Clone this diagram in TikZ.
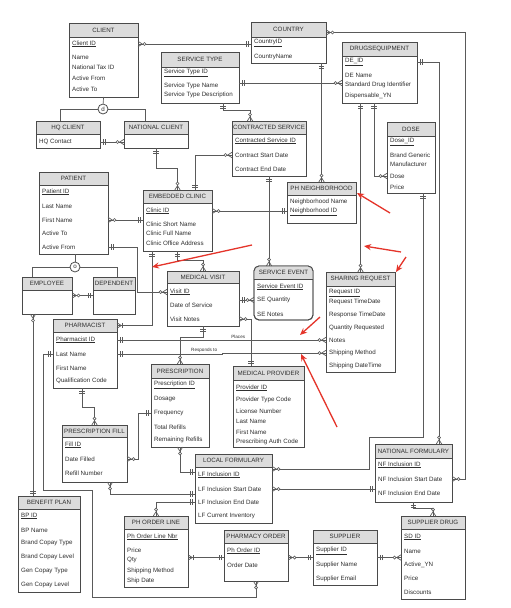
\documentclass[tikz,border=0pt]{standalone}
\usepackage{fontspec}
\setmainfont{Liberation Sans}
\usetikzlibrary{arrows.meta,calc,decorations.markings}
\definecolor{boxline}{HTML}{4A4A4A}
\definecolor{headfill}{HTML}{DCDCDC}
\definecolor{linkline}{HTML}{5A5A5A}
\definecolor{textgray}{HTML}{2E2E2E}
\definecolor{annot}{HTML}{E5342A}

% entity box: name, left, top, right, bottom, header bottom, title
\newcommand{\entity}[7]{%
  \node[ebox, minimum width=#4-#2, minimum height=#5-#3, anchor=north west] (#1) at (#2,#3) {};
  \node[ehead, minimum width=#4-#2, minimum height=#6-#3, anchor=north west] (#1-t) at (#2,#3) {#7};
}

\begin{document}
\begin{tikzpicture}[
  x=1pt, y=-1pt,
  font=\fontsize{6.2}{7}\selectfont,
  ebox/.style={draw=boxline, fill=white, line width=0.9pt, inner sep=0pt, outer sep=0pt},
  ehead/.style={draw=boxline, fill=headfill, line width=0.9pt, inner sep=0pt, outer sep=0pt, text=textgray},
  field/.style={anchor=west, inner sep=0pt, text=textgray},
  rel/.style={font=\fontsize{4.6}{5}\selectfont, text=textgray, inner sep=1pt},
  subcirc/.style={circle, draw=boxline, fill=white, line width=0.8pt, inner sep=0pt, minimum size=10pt, text=textgray},
  link/.style={draw=linkline, line width=0.7pt},
  mk/.style={draw=linkline, line width=0.7pt},
  annotarrow/.style={-{Stealth[length=7pt,width=6pt]}, line width=1.3pt, annot},
  one start/.style={postaction={decorate, decoration={markings,
    mark=at position 3pt with {\draw[mk] (0pt,-2.6pt) -- (0pt,2.6pt);},
    mark=at position 5pt with {\draw[mk] (0pt,-2.6pt) -- (0pt,2.6pt);}}}},
  one end/.style={postaction={decorate, decoration={markings,
    mark=at position -3pt with {\draw[mk] (0pt,-2.6pt) -- (0pt,2.6pt);},
    mark=at position -5pt with {\draw[mk] (0pt,-2.6pt) -- (0pt,2.6pt);}}}},
  zmany start/.style={postaction={decorate, decoration={markings,
    mark=at position 0.35pt with {\draw[mk] (4pt,0pt) -- (-0.35pt,2.7pt) (4pt,0pt) -- (-0.35pt,-2.7pt);},
    mark=at position 6.5pt with {\draw[mk, fill=white] (0pt,0pt) circle (1.5pt);}}}},
  zmany end/.style={postaction={decorate, decoration={markings,
    mark=at position -0.35pt with {\draw[mk] (-4pt,0pt) -- (0.35pt,2.7pt) (-4pt,0pt) -- (0.35pt,-2.7pt);},
    mark=at position -6.5pt with {\draw[mk, fill=white] (0pt,0pt) circle (1.5pt);}}}},
  omany start/.style={postaction={decorate, decoration={markings,
    mark=at position 0.35pt with {\draw[mk] (4pt,0pt) -- (-0.35pt,2.7pt) (4pt,0pt) -- (-0.35pt,-2.7pt);},
    mark=at position 5.5pt with {\draw[mk] (0pt,-2.6pt) -- (0pt,2.6pt);}}}},
  omany end/.style={postaction={decorate, decoration={markings,
    mark=at position -0.35pt with {\draw[mk] (-4pt,0pt) -- (0.35pt,2.7pt) (-4pt,0pt) -- (0.35pt,-2.7pt);},
    mark=at position -5.5pt with {\draw[mk] (0pt,-2.6pt) -- (0pt,2.6pt);}}}}
]
\fill[white] (0,0) rectangle (511,608);
\useasboundingbox (0,0) rectangle (511,608);

% entities
\entity{client}{69}{23}{138}{97}{37}{CLIENT}
\node[field] (cl-id) at (72,44) {\underline{Client ID}};
\node[field] (cl-name) at (72,57) {Name};
\node[field] (cl-tax) at (72,67) {National Tax ID};
\node[field] (cl-from) at (72,78) {Active From};
\node[field] (cl-to) at (72,89) {Active To};

\entity{country}{251}{22}{326}{63}{37}{COUNTRY}
\node[field] (co-id) at (254,43) {\underline{CountryID}};
\node[field] (co-name) at (254,57) {CountryName};

\entity{drugs}{342}{42}{417}{103}{56}{DRUGSEQUIPMENT}
\node[field] (de-id) at (345,62) {\underline{DE\_ID}};
\node[field] (de-name) at (345,75) {DE Name};
\node[field] (de-std) at (345,85) {Standard Drug Identifier};
\node[field] (de-disp) at (345,96) {Dispensable\_YN};

\entity{stype}{161}{52}{239}{103}{67}{SERVICE TYPE}
\node[field] (st-id) at (164,73) {\underline{Service Type ID}};
\node[field] (st-name) at (164,86) {Service Type Name};
\node[field] (st-desc) at (164,95) {Service Type Description};

\entity{hq}{36}{121}{100}{148}{134}{HQ CLIENT}
\node[field] (hq-contact) at (39,142) {HQ Contact};

\entity{nc}{124}{121}{188}{148}{134}{NATIONAL CLIENT}

\entity{cs}{232}{121}{306}{176}{134}{CONTRACTED SERVICE}
\node[field] (cs-id) at (235,141) {\underline{Contracted Service ID}};
\node[field] (cs-start) at (235,155) {Contract Start Date};
\node[field] (cs-end) at (235,169) {Contract End Date};

\entity{phn}{287}{182}{356}{223}{195}{PH NEIGHBORHOOD}
\node[field] (phn-name) at (290,202) {Neighborhood Name};
\node[field] (phn-id) at (290,212) {\underline{Neighborhood ID}};

\entity{ec}{143}{190}{212}{251}{203}{EMBEDDED CLINIC}
\node[field] (ec-id) at (146,211) {\underline{Clinic ID}};
\node[field] (ec-short) at (146,224) {Clinic Short Name};
\node[field] (ec-full) at (146,233) {Clinic Full Name};
\node[field] (ec-addr) at (146,243) {Clinic Office Address};

\entity{pat}{39}{172}{108}{254}{185}{PATIENT}
\node[field] (pa-id) at (42,192) {\underline{Patient ID}};
\node[field] (pa-last) at (42,206) {Last Name};
\node[field] (pa-first) at (42,220) {First Name};
\node[field] (pa-to) at (42,233) {Active To};
\node[field] (pa-from) at (42,247) {Active From};

\entity{dose}{387}{122}{435}{193}{136}{DOSE}
\node[field] (ds-id) at (390,142) {\underline{Dose\_ID}};
\node[field] (ds-brand) at (390,155) {Brand Generic};
\node[field] (ds-manu) at (390,164) {Manufacturer};
\node[field] (ds-dose) at (390,176) {Dose};
\node[field] (ds-price) at (390,187) {Price};

\entity{emp}{22}{277}{72}{314}{290}{EMPLOYEE}
\entity{dep}{93}{277}{135}{314}{290}{DEPENDENT}

\entity{mv}{167}{271}{239}{326}{283}{MEDICAL VISIT}
\node[field] (mv-id) at (170,292) {\underline{Visit ID}};
\node[field] (mv-date) at (170,305) {Date of Service};
\node[field] (mv-notes) at (170,319) {Visit Notes};

% service event has round corners
\node[ebox, rounded corners=5pt, minimum width=59, minimum height=54, anchor=north west] (se) at (254,266) {};
\begin{scope}
  \clip[rounded corners=5pt] (se.north west) rectangle (se.south east);
  \fill[headfill] (se.north west) rectangle (se.east |- 0,279);
\end{scope}
\draw[boxline, line width=0.9pt] (se.west |- 0,279) -- (se.east |- 0,279);
\draw[boxline, line width=0.9pt, rounded corners=5pt] (se.north west) rectangle (se.south east);
\node[text=textgray] (se-t) at (283.5,272.5) {SERVICE EVENT};
\node[field] (se-id) at (257,287) {\underline{Service Event ID}};
\node[field] (se-qty) at (257,300) {SE Quantity};
\node[field] (se-notes) at (257,314) {SE Notes};

\entity{sr}{326}{272}{395}{372}{286}{SHARING REQUEST}
\node[field] (sr-id) at (329,293) {\underline{Request ID}};
\node[field] (sr-req) at (329,302) {Request TimeDate};
\node[field] (sr-resp) at (329,315) {Response TimeDate};
\node[field] (sr-qty) at (329,328) {Quantity Requested};
\node[field] (sr-notes) at (329,340) {Notes};
\node[field] (sr-ship) at (329,353) {Shipping Method};
\node[field] (sr-time) at (329,366) {Shipping DateTime};

\entity{pharm}{53}{319}{117}{388}{332}{PHARMACIST}
\node[field] (ph-id) at (56,340) {\underline{Pharmacist ID}};
\node[field] (ph-last) at (56,354) {Last Name};
\node[field] (ph-first) at (56,368) {First Name};
\node[field] (ph-qual) at (56,381) {Qualification Code};

\entity{presc}{151}{364}{209}{447}{378}{PRESCRIPTION}
\node[field] (pr-id) at (154,385) {\underline{Prescription ID}};
\node[field] (pr-dos) at (154,399) {Dosage};
\node[field] (pr-freq) at (154,413) {Frequency};
\node[field] (pr-total) at (154,427) {Total Refills};
\node[field] (pr-rem) at (154,440) {Remaining Refills};

\entity{mp}{233}{366}{304}{447}{380}{MEDICAL PROVIDER}
\node[field] (mp-id) at (236,388) {\underline{Provider ID}};
\node[field] (mp-type) at (236,400) {Provider Type Code};
\node[field] (mp-lic) at (236,411) {License Number};
\node[field] (mp-last) at (236,421) {Last Name};
\node[field] (mp-first) at (236,432) {First Name};
\node[field] (mp-auth) at (236,442) {Prescribing Auth Code};

\entity{pf}{62}{425}{127}{482}{437}{PRESCRIPTION FILL}
\node[field] (pf-id) at (65,445) {\underline{Fill ID}};
\node[field] (pf-date) at (65,459) {Date Filled};
\node[field] (pf-refill) at (65,473) {Refill Number};

\entity{lf}{195}{454}{272}{523}{467}{LOCAL FORMULARY}
\node[field] (lf-id) at (198,475) {\underline{LF Inclusion ID}};
\node[field] (lf-st) at (198,489) {LF Inclusion Start Date};
\node[field] (lf-end) at (198,502) {LF Inclusion End Date};
\node[field] (lf-inv) at (198,516) {LF Current Inventory};

\entity{nf}{375}{444}{452}{502}{458}{NATIONAL FORMULARY}
\node[field] (nf-id) at (378,465) {\underline{NF Inclusion ID}};
\node[field] (nf-st) at (378,479) {NF Inclusion Start Date};
\node[field] (nf-end) at (378,493) {NF Inclusion End Date};

\entity{bp}{18}{496}{80}{592}{509}{BENEFIT PLAN}
\node[field] (bp-id) at (21,516) {\underline{BP ID}};
\node[field] (bp-name) at (21,530) {BP Name};
\node[field] (bp-bct) at (21,543) {Brand Copay Type};
\node[field] (bp-bcl) at (21,557) {Brand Copay Level};
\node[field] (bp-gct) at (21,571) {Gen Copay Type};
\node[field] (bp-gcl) at (21,585) {Gen Copay Level};

\entity{pol}{124}{516}{188}{587}{529}{PH ORDER LINE}
\node[field] (pol-id) at (127,537) {\underline{Ph Order Line Nbr}};
\node[field] (pol-price) at (127,550) {Price};
\node[field] (pol-qty) at (127,560) {Qty};
\node[field] (pol-ship) at (127,571) {Shipping Method};
\node[field] (pol-date) at (127,581) {Ship Date};

\entity{po}{224}{530}{288}{581}{543}{PHARMACY ORDER}
\node[field] (po-id) at (227,551) {\underline{Ph Order ID}};
\node[field] (po-date) at (227,565) {Order Date};

\entity{sup}{313}{530}{377}{585}{543}{SUPPLIER}
\node[field] (su-id) at (316,551) {\underline{Supplier ID}};
\node[field] (su-name) at (316,565) {Supplier Name};
\node[field] (su-email) at (316,579) {Supplier Email};

\entity{sd}{401}{516}{465}{599}{529}{SUPPLIER DRUG}
\node[field] (sd-id) at (404,537) {\underline{SD ID}};
\node[field] (sd-name) at (404,551) {Name};
\node[field] (sd-active) at (404,565) {Active\_YN};
\node[field] (sd-price) at (404,578) {Price};
\node[field] (sd-disc) at (404,592) {Discounts};

% subtype circles
\node[subcirc] (dsub) at (103,109) {d};
\node[subcirc] (osub) at (75,267) {o};
\draw[link] (client.south) -- (dsub);
\draw[link] (dsub.west) -| ([xshift=-8pt]hq.north);
\draw[link] (dsub.east) -| ([xshift=-11pt]nc.north);
\draw[link] (pat.south -| osub) -- (osub);
\draw[link] (osub.west) -| ([xshift=-15pt]emp.north);
\draw[link] (osub.east) -| ([xshift=3pt]dep.north);

% relationships
\draw[link, zmany start, one end] (client.east |- cl-id) -- (country.west |- cl-id);
\draw[link, one start, zmany end] ([yshift=2pt]stype.east |- de-std) -- ([yshift=2pt]drugs.west |- de-std);
\draw[link, one start, zmany end] (phn.north |- country.south) -- (phn.north);
\draw[link, one start, zmany end] (drugs.east |- de-id) -| ([xshift=25.5pt]nf.north);
\draw[link, zmany start, zmany end] ([yshift=-3pt]country-t.east) -| ($(nf.east |- nf-st)+(13,0)$) -- (nf.east |- nf-st);
\draw[link, one start, zmany end] (sr.north |- drugs.south) -- (sr.north);
\draw[link, one start, zmany end] ([xshift=-5.5pt]drugs.south) |- (dose.west |- ds-dose);
\draw[link, one start, zmany end] ([xshift=12pt]dose.south) |- (369,437) |- ([yshift=6pt]lf.east |- lf-id);
\draw[link, zmany start, one end] (lf.east |- lf-st) -- (nf.west |- lf-st);
\draw[link, one start, zmany end] (nf.south) -- ++(0,6) -| (sd.north);
\draw[link, one start, zmany end] (sup.east) -- (sup.east -| sd.west);
\draw[link, zmany start, one end] (po.east |- sup.east) -- (sup.west);
\draw[link, omany start, one end] (pol.east |- sup.east) -- (po.west |- sup.east);
\draw[link, zmany start, one end] (pol.north) |- (lf.west |- lf-end);
\draw[link, zmany start, one end] (presc.south) |- ([yshift=3pt]lf.west |- lf-id);
\draw[link, zmany start, one end] (pf.east |- pf-date) -- ++(11,0) |- (presc.west |- pr-freq);
\draw[link, one start, zmany end] ([xshift=-3pt]pharm.south) -- ++(0,19) -| (pf.north);
\draw[link, zmany start, one end] ([xshift=15.5pt]pf.south) |- ([yshift=-5pt]lf.west |- lf-st);
\draw[link, one start, zmany end] (pharm.west |- ph-last) -- ++(-10,0) |- (92,490) |- (po.south |- 0,597) -- (po.south);
\draw[link, one start, zmany end] (pharm.east |- ph-id) -- node[rel, above, pos=0.58] (places) {Places} (sr.west |- sr-notes);
\draw[link, one start, zmany end] (pharm.east |- ph-last) -- node[rel, above, pos=0.83] (responds) {Responds to} ++(105,0) |- (sr.west |- sr-ship);
\draw[link, one start, omany end] ([xshift=-25.5pt]ec.south) |- (pharm-t.east);
\draw[link, one start, zmany end] (ec.south) -- ++(0,9) -| (mv.north);
\draw[link, one start, zmany end] (pat.east |- pa-from) -- ++(29,0) |- (mv.west |- mv-id);
\draw[link, zmany start, one end] (pat.east |- pa-first) -- (ec.west |- pa-first);
\draw[link, zmany start, one end] (ec.east |- ec-id) -- (phn.west |- ec-id);
\draw[link, one start, zmany end] (cs.south) -- (cs.south |- se.north);
\draw[link, one start, zmany end] ([xshift=17.5pt]ec.north) |- (cs.west |- cs-start);
\draw[link, one start, zmany end] (nc.south) -- ++(0,20) -| (ec.north);
\draw[link, one start, zmany end] ([xshift=23pt]stype.south) -- ++(0,7) -| ([xshift=-19pt]cs.north);
\draw[link, one start, zmany end] (hq.east |- hq-contact) -- (nc.west |- hq-contact);
\draw[link, zmany start, one end] (emp.east) -- (emp.east -| dep.west);
\draw[link, zmany start, one end] ([xshift=-14pt]emp.south) -- ([xshift=-14pt]emp.south |- bp.north);
\draw[link, one start, zmany end] (mv.east |- se-qty) -- (se.west |- se-qty);
\draw[link, zmany start, one end] (mv.east |- mv-notes) -| ([xshift=-17.5pt]mp.north);
\draw[link, one start, zmany end] (mv.south) -- ++(0,11) -| (presc.north);

% red annotations
\coordinate (ra1) at (390,213); \coordinate (rb1) at (357,193);
\coordinate (ra2) at (401,252); \coordinate (rb2) at (364,246);
\coordinate (ra3) at (406,257); \coordinate (rb3) at (396,272);
\coordinate (ra4) at (252,245); \coordinate (rb4) at (152,267);
\coordinate (ra5) at (320,317); \coordinate (rb5) at (300,335);
\coordinate (ra6) at (337,427); \coordinate (rb6) at (301,354);
\draw[annotarrow] (ra1) -- (rb1);
\draw[annotarrow] (ra2) -- (rb2);
\draw[annotarrow] (ra3) -- (rb3);
\draw[annotarrow] (ra4) -- (rb4);
\draw[annotarrow] (ra5) -- (rb5);
\draw[annotarrow] (ra6) -- (rb6);
\end{tikzpicture}
\end{document}
